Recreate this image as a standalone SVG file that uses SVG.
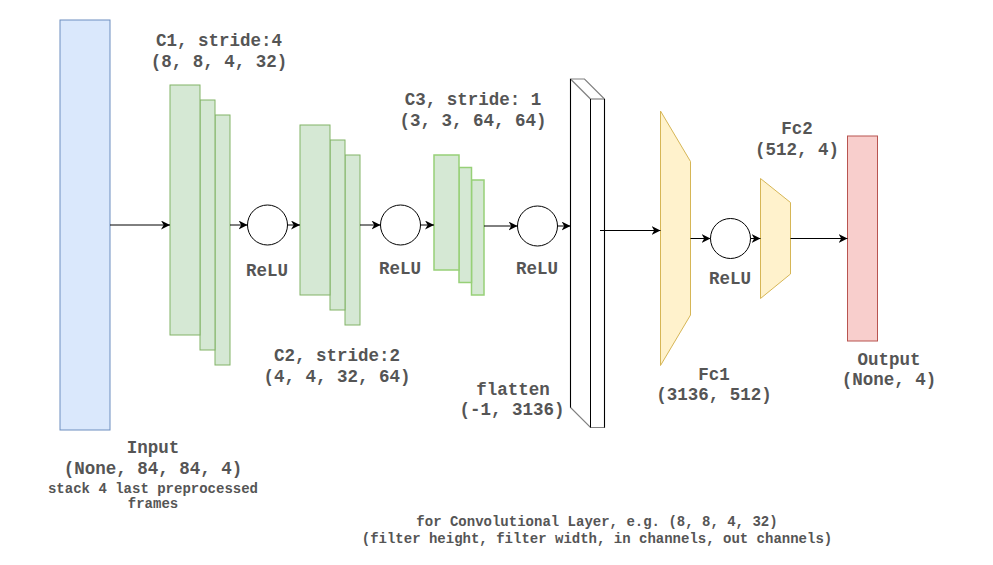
<svg xmlns="http://www.w3.org/2000/svg" width="993" height="565" viewBox="0 0 993 565">
<style>
.t{font-family:"Liberation Mono","Courier New",monospace;font-weight:bold;fill:#555555;text-anchor:middle}
.l{font-size:17.5px}
.s{font-size:14px}
.g{fill:#d5e8d4;stroke:#82b366;stroke-width:1}
.g3{fill:#d5e8d4;stroke:#97d077;stroke-width:1.5}
.c{fill:#ffffff;stroke:#000000;stroke-width:1}
.y{fill:#fff2cc;stroke:#d6b656;stroke-width:1}
.e{stroke:#000000;stroke-width:1;fill:none;marker-end:url(#a)}
</style>
<defs>
<marker id="a" viewBox="0 0 10 10" refX="10" refY="5" markerWidth="9" markerHeight="9" markerUnits="userSpaceOnUse" orient="auto">
<path d="M0,0 L10,5 L0,10 L3,5 Z" fill="#000"/>
</marker>
</defs>
<rect width="993" height="565" fill="#ffffff"/>
<g id="input">
<rect x="60" y="20" width="50" height="410" fill="#dae8fc" stroke="#6c8ebf"/>
<text class="t l" x="153" y="453">Input</text>
<text class="t l" x="153" y="474">(None, 84, 84, 4)</text>
<text class="t s" x="153" y="493">stack 4 last preprocessed</text>
<text class="t s" x="153" y="508">frames</text>
</g>
<g id="c1">
<rect class="g" x="215" y="115" width="15" height="250"/>
<rect class="g" x="200" y="100" width="15" height="250"/>
<rect class="g" x="170" y="85" width="30" height="250"/>
<text class="t l" x="219" y="46">C1, stride:4</text>
<text class="t l" x="219" y="67">(8, 8, 4, 32)</text>
</g>
<g id="relu1">
<circle class="c" cx="267.5" cy="225" r="20"/>
<text class="t l" x="267" y="276">ReLU</text>
</g>
<g id="c2">
<rect class="g" x="345" y="155" width="15" height="170"/>
<rect class="g" x="330" y="140" width="15" height="170"/>
<rect class="g" x="300" y="125" width="30" height="170"/>
<text class="t l" x="337" y="361">C2, stride:2</text>
<text class="t l" x="337" y="382">(4, 4, 32, 64)</text>
</g>
<g id="relu2">
<circle class="c" cx="400.5" cy="225" r="20"/>
<text class="t l" x="400" y="274">ReLU</text>
</g>
<g id="c3">
<rect class="g3" x="471.5" y="180" width="12.5" height="115"/>
<rect class="g3" x="459" y="167.5" width="12.5" height="115"/>
<rect class="g3" x="434" y="155" width="25" height="115"/>
<text class="t l" x="473" y="105">C3, stride: 1</text>
<text class="t l" x="473" y="126">(3, 3, 64, 64)</text>
</g>
<g id="relu3">
<circle class="c" cx="537.5" cy="226" r="20"/>
<text class="t l" x="537" y="274">ReLU</text>
</g>
<g id="flatten">
<polygon points="570.5,79 584.5,79 604.5,99 604.5,427.5 590.5,427.5 570.5,407.5" fill="#ffffff" stroke="#808080" stroke-width="1.2"/>
<line x1="590.5" y1="99" x2="604.5" y2="99" stroke="#808080" stroke-width="1.2"/>
<line x1="570.5" y1="79" x2="590.5" y2="99" stroke="#808080" stroke-width="1.2"/>
<path d="M570.5,79 V407.5 M590.5,99 V427.5 M604.5,99 V427.5" stroke="#000" stroke-width="1" fill="none"/>
<text class="t l" x="513" y="395">flatten</text>
<text class="t l" x="512" y="415">(-1, 3136)</text>
</g>
<g id="fc1">
<polygon class="y" points="660.5,111 690.5,161.5 690.5,315 660.5,365.5"/>
<text class="t l" x="714" y="380">Fc1</text>
<text class="t l" x="714" y="400">(3136, 512)</text>
</g>
<g id="relu4">
<circle class="c" cx="730.5" cy="238.5" r="20"/>
<text class="t l" x="730" y="284">ReLU</text>
</g>
<g id="fc2">
<polygon class="y" points="760.5,178.5 790.5,202.5 790.5,274 760.5,298.5"/>
<text class="t l" x="797" y="134">Fc2</text>
<text class="t l" x="797" y="155">(512, 4)</text>
</g>
<g id="output">
<rect x="847.5" y="136" width="30" height="205" fill="#f8cecc" stroke="#b85450"/>
<text class="t l" x="889" y="365">Output</text>
<text class="t l" x="889" y="385">(None, 4)</text>
</g>
<g id="note">
<text class="t s" x="597" y="526">for Convolutional Layer, e.g. (8, 8, 4, 32)</text>
<text class="t s" x="597" y="543">(filter height, filter width, in channels, out channels)</text>
</g>
<g id="connectors">
<line class="e" x1="110" y1="225" x2="170" y2="225"/>
<line class="e" x1="230" y1="225" x2="247.5" y2="225"/>
<line class="e" x1="287.5" y1="225" x2="300" y2="225"/>
<line class="e" x1="360" y1="225" x2="380.5" y2="225"/>
<line class="e" x1="420.5" y1="225" x2="434" y2="225"/>
<line class="e" x1="484" y1="226" x2="517.5" y2="226"/>
<line class="e" x1="557.5" y1="226" x2="570.5" y2="226"/>
<line class="e" x1="600" y1="230.5" x2="660.5" y2="230.5"/>
<line class="e" x1="690.5" y1="238.5" x2="710.5" y2="238.5"/>
<line class="e" x1="750.5" y1="238.5" x2="760.5" y2="238.5"/>
<line class="e" x1="790.5" y1="238.5" x2="847.5" y2="238.5"/>
</g>
</svg>
